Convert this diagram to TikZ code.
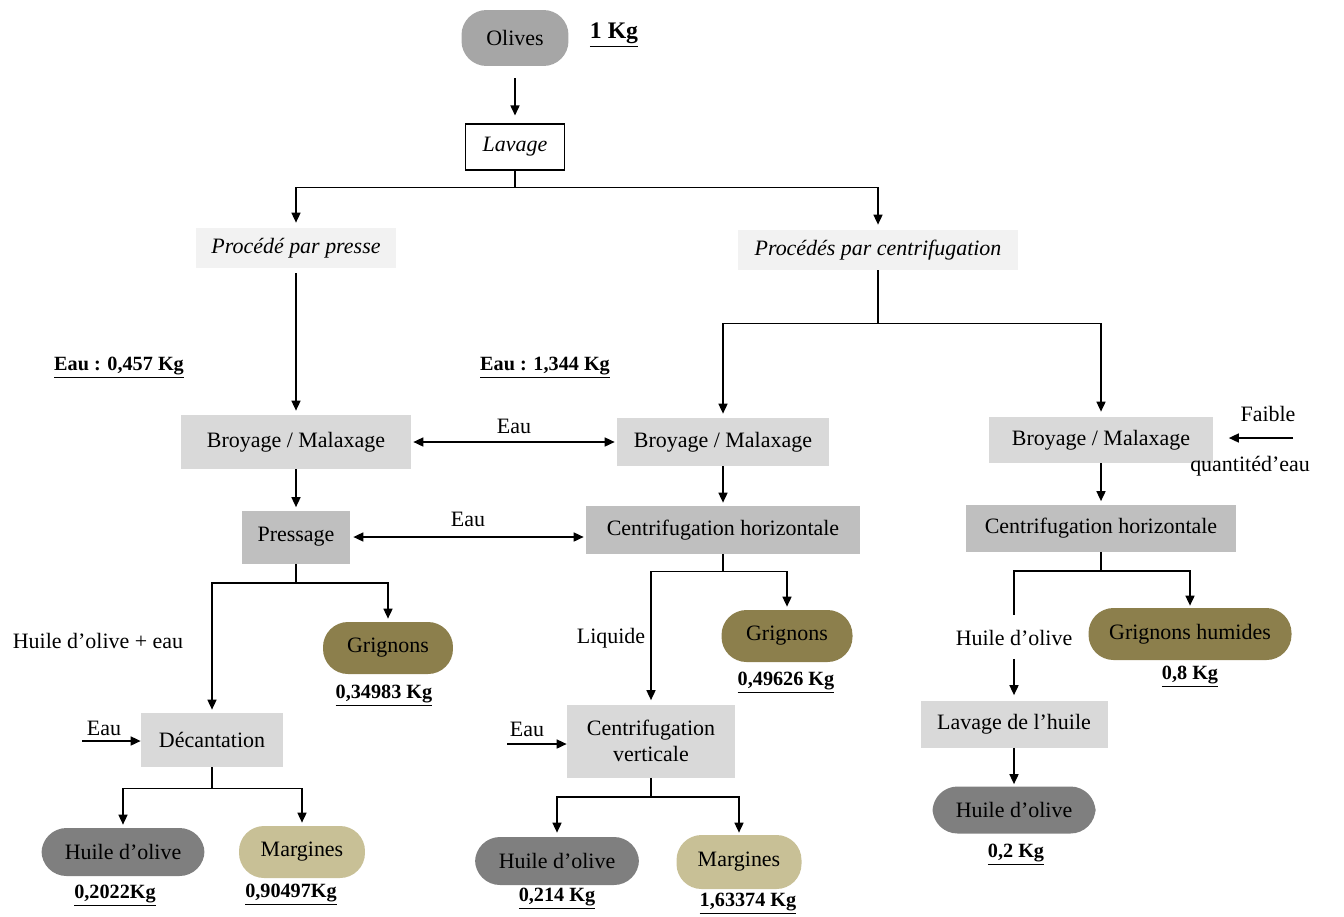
\documentclass[tikz,border=0pt]{standalone}
\usepackage{fontspec}
\setmainfont{Liberation Serif}
\usetikzlibrary{arrows.meta}

\definecolor{grisclair}{HTML}{D9D9D9}
\definecolor{grismoyen}{HTML}{BFBFBF}
\definecolor{grisfond}{HTML}{F2F2F2}
\definecolor{colOlives}{HTML}{A6A6A6}
\definecolor{colHuile}{HTML}{7F7F7F}
\definecolor{colGrignons}{HTML}{8C7F4C}
\definecolor{colMargines}{HTML}{C8C096}

\begin{document}
\begin{tikzpicture}[x=0.02cm,y=-0.02cm,
    >={Triangle[length=2mm,width=1.8mm]},
    every node/.style={font=\fontsize{12.5}{15}\selectfont},
    etape/.style={fill=grisclair,inner sep=2pt},
    etapefonce/.style={fill=grismoyen,inner sep=2pt},
    procede/.style={fill=grisfond,inner sep=2pt,font=\fontsize{12.5}{15}\selectfont\itshape},
    produit/.style={rounded corners=0.5cm,inner sep=2pt},
    kg/.style={font=\fontsize{11.5}{14}\selectfont\bfseries},
    fleche/.style={line width=0.9pt}]
        \useasboundingbox (0,0) rectangle (1344,916);
        % tete du schema
        \node[produit,fill=colOlives,minimum width=2.14cm,minimum height=1.12cm] (olives) at (515,38) {Olives};
        \node[kg,font=\fontsize{13.5}{16}\selectfont\bfseries] (kg0) at (614,35) {\underline{1 Kg}};
        \node[draw,line width=0.6pt,minimum width=1.98cm,minimum height=0.92cm,font=\fontsize{12.5}{15}\selectfont\itshape] (lavage) at (515,147) {Lavage};
        \node[procede,minimum width=4.02cm,minimum height=0.8cm] (presse) at (296,248) {Procédé par presse};
        \node[procede,minimum width=5.6cm,minimum height=0.8cm] (centri) at (878,250) {Procédés par centrifugation};
        \draw[fleche,->,shorten <=2.4mm,shorten >=1.6mm] (olives) -- (lavage);
        \draw[fleche] (lavage.south) -- ++(0,17) coordinate (split0);
        \draw[fleche,->,shorten >=1mm] (split0) -| (presse.north);
        \draw[fleche,->,shorten >=1mm] (split0) -| (centri.north);
        \node[kg] (eau1) at (119,368) {\underline{Eau : 0,457 Kg}};
        \node[kg] (eau2) at (545,368) {\underline{Eau : 1,344 Kg}};
        % procede par presse
        \node[etape,minimum width=4.6cm,minimum height=1.08cm] (broy1) at (296,442) {Broyage / Malaxage};
        \node[etapefonce,minimum width=2.16cm,minimum height=1.06cm] (press) at (296,537) {Pressage};
        \node[produit,fill=colGrignons,minimum width=2.6cm,minimum height=1.04cm] (grig1) at (388,648) {Grignons};
        \node[kg] (kg1) at (384,696) {\underline{0,34983 Kg}};
        \node (huileau) at (98,641) {Huile d’olive + eau};
        \node[etape,minimum width=2.84cm,minimum height=1.08cm] (decant) at (212,740) {Décantation};
        \node (eaudec) at (104,728) {Eau};
        \coordinate (entdec) at (82,741);
        \node[produit,fill=colHuile,minimum width=3.26cm,minimum height=0.96cm] (huile1) at (123,852) {Huile d’olive};
        \node[produit,fill=colMargines,minimum width=2.52cm,minimum height=1.04cm] (marg1) at (302,852) {Margines};
        \node[kg] (kg2) at (115,896) {\underline{0,2022Kg}};
        \node[kg] (kg3) at (291,895) {\underline{0,90497Kg}};
        \draw[fleche,->,shorten <=1mm,shorten >=0.8mm] (presse) -- (broy1);
        \draw[fleche,->,shorten >=0.6mm] (broy1) -- (press);
        \draw[fleche] (press.south) -- ++(0,19) coordinate (split1);
        \draw[fleche,->,shorten >=0.6mm] (split1) -| (grig1.north);
        \draw[fleche,->,shorten >=0.6mm] (split1) -| (decant.north);
        \draw[fleche,->] (entdec) -- (entdec -| decant.west);
        \draw[fleche] (decant.south) -- ++(0,21) coordinate (split2);
        \draw[fleche,->,shorten >=0.6mm] (split2) -| (huile1.north);
        \draw[fleche,->,shorten >=0.6mm] (split2) -| (marg1.north);
        % procede par centrifugation (trois phases)
        \node[etape,minimum width=4.24cm,minimum height=0.96cm] (broy2) at (723,442) {Broyage / Malaxage};
        \node[etapefonce,minimum width=5.48cm,minimum height=0.96cm] (centrih) at (723,530) {Centrifugation horizontale};
        \node[produit,fill=colGrignons,minimum width=2.62cm,minimum height=1.04cm] (grig2) at (787,636) {Grignons};
        \node[kg] (kg4) at (786,683) {\underline{0,49626 Kg}};
        \node (liquide) at (611,638) {Liquide};
        \node[etape,align=center,minimum width=3.36cm,minimum height=1.46cm] (centriv) at (651,741) {Centrifugation\\verticale};
        \node (eaucv) at (527,729) {Eau};
        \coordinate (entcv) at (507,744);
        \node[produit,fill=colHuile,minimum width=3.28cm,minimum height=0.96cm] (huile2) at (557,861) {Huile d’olive};
        \node[produit,fill=colMargines,minimum width=2.5cm,minimum height=1.08cm] (marg2) at (739,862) {Margines};
        \node[kg] (kg5) at (557,899) {\underline{0,214 Kg}};
        \node[kg] (kg6) at (748,904) {\underline{1,63374 Kg}};
        \draw[fleche] (centri.south) -- ++(0,53) coordinate (split3);
        \draw[fleche,->,shorten >=0.8mm] (split3) -| (broy2.north);
        \draw[fleche,<->,shorten <=0.4mm,shorten >=0.4mm] (broy1) -- node[above=1pt] (eaub) {Eau} (broy2);
        \draw[fleche,<->,shorten <=0.6mm,shorten >=0.4mm] (press.east) -- node[above=2pt] (eaup) {Eau} (press.east -| centrih.west);
        \draw[fleche,->,shorten >=0.6mm] (broy2) -- (centrih);
        \draw[fleche] (centrih.south) -- ++(0,17) coordinate (split4);
        \draw[fleche,->,shorten >=0.6mm] (split4) -| (grig2.north);
        \draw[fleche,->,shorten >=0.8mm] (split4) -| (centriv.north);
        \draw[fleche,->] (entcv) -- (entcv -| centriv.west);
        \draw[fleche] (centriv.south) -- ++(0,19) coordinate (split5);
        \draw[fleche,->,shorten >=0.8mm] (split5) -| (huile2.north);
        \draw[fleche,->,shorten >=0.4mm] (split5) -| (marg2.north);
        % procede par centrifugation (deux phases)
        \node[etape,minimum width=4.5cm,minimum height=0.92cm] (broy3) at (1101,440) {Broyage / Malaxage};
        \node (faible) at (1268,414) {Faible};
        \node (quantite) at (1250,466) {quantitéd’eau};
        \coordinate (entb3) at (1293,438);
        \node[etapefonce,minimum width=5.4cm,minimum height=0.94cm] (centrih2) at (1101,528) {Centrifugation horizontale};
        \node (huiletxt) at (1014,638) {Huile d’olive};
        \coordinate (finh) at (1014,615);
        \node[produit,fill=colGrignons,minimum width=4.06cm,minimum height=1.04cm] (grigh) at (1190,634) {Grignons humides};
        \node[kg] (kg7) at (1190,677) {\underline{0,8 Kg}};
        \node[etape,minimum width=3.74cm,minimum height=0.94cm] (lavh) at (1014,724) {Lavage de l’huile};
        \node[produit,fill=colHuile,minimum width=3.26cm,minimum height=0.94cm] (huile3) at (1014,810) {Huile d’olive};
        \node[kg] (kg8) at (1016,855) {\underline{0,2 Kg}};
        \draw[fleche,->,shorten >=1mm] (split3) -| (broy3.north);
        \draw[fleche,->,shorten >=3mm] (entb3) -- (entb3 -| broy3.east);
        \draw[fleche,->,shorten >=0.6mm] (broy3) -- (centrih2);
        \draw[fleche] (centrih2.south) -- ++(0,19) coordinate (split6);
        \draw[fleche,->,shorten >=0.4mm] (split6) -| (grigh.north);
        \draw[fleche] (split6) -| (finh);
        \draw[fleche,->,shorten <=1.4mm,shorten >=1mm] (huiletxt) -- (lavh);
        \draw[fleche,->,shorten >=0.4mm] (lavh) -- (huile3);
\end{tikzpicture}
\end{document}
